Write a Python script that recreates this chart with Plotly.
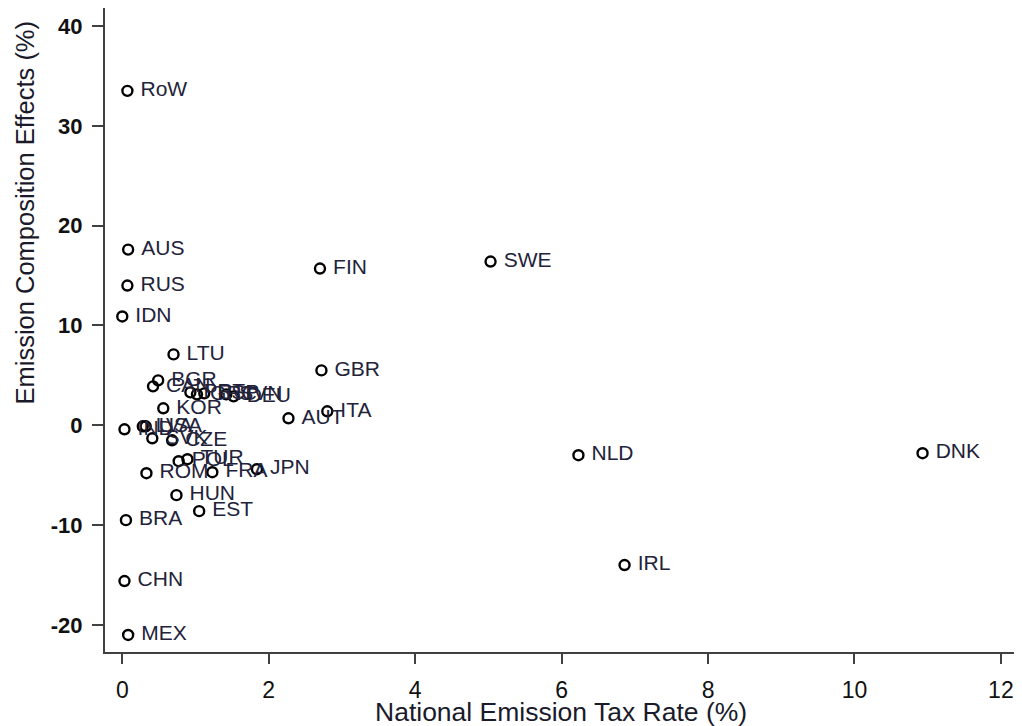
import plotly.graph_objects as go

countries = ["RoW", "AUS", "RUS", "IDN", "FIN", "SWE", "LTU", "GBR", "BGR", "CAN",
             "PRT", "GRC", "ESP", "SVN", "DEU", "KOR", "AUT", "ITA", "IND", "LVA",
             "USA", "SVK", "CZE", "POL", "TUR", "FRA", "JPN", "ROM", "HUN", "EST",
             "BRA", "CHN", "MEX", "NLD", "DNK", "IRL"]
tax_rate = [0.07, 0.08, 0.07, 0.00, 2.70, 5.03, 0.70, 2.72, 0.49, 0.42,
            0.93, 1.02, 1.12, 1.42, 1.52, 0.56, 2.27, 2.80, 0.03, 0.28,
            0.32, 0.41, 0.68, 0.77, 0.89, 1.23, 1.84, 0.33, 0.74, 1.05,
            0.05, 0.03, 0.08, 6.23, 10.93, 6.86]
composition = [33.5, 17.6, 14.0, 10.9, 15.7, 16.4, 7.1, 5.5, 4.5, 3.9,
               3.3, 3.1, 3.2, 3.1, 2.9, 1.7, 0.7, 1.4, -0.4, -0.1,
               -0.1, -1.3, -1.5, -3.6, -3.4, -4.7, -4.4, -4.8, -7.0, -8.6,
               -9.5, -15.6, -21.0, -3.0, -2.8, -14.0]

x_ticks = [0, 2, 4, 6, 8, 10, 12]
y_ticks = [-20, -10, 0, 10, 20, 30, 40]

FONT = "Liberation Sans, Arial, sans-serif"

fig = go.Figure()
fig.add_trace(go.Scatter(
    x=tax_rate, y=composition, mode="markers+text",
    text=["\u00a0" + c for c in countries], textposition="middle right",
    textfont=dict(family=FONT, size=21, color="#22223a"),
    marker=dict(symbol="circle-open", size=10, color="black", line=dict(width=2.4, color="black")),
    cliponaxis=False, showlegend=False,
))

fig.update_layout(
    width=1014, height=718,
    margin=dict(l=97, r=5, t=0, b=74, autoexpand=False),
    paper_bgcolor="white", plot_bgcolor="white",
    font=dict(family=FONT, color="#111"),
    annotations=[
        dict(text="Emission Composition Effects (%)", textangle=-90,
             xref="paper", yref="paper", x=-0.088, y=0.682,
             xanchor="center", yanchor="middle", showarrow=False,
             font=dict(family=FONT, size=25.5, color="#1a1a2a")),
        dict(text="National Emission Tax Rate (%)",
             xref="paper", yref="paper", x=0.5, y=-0.0932,
             xanchor="center", yanchor="middle", showarrow=False,
             font=dict(family=FONT, size=26.5, color="#1a1a2a")),
    ],
)
fig.update_xaxes(
    range=[-0.236, 12.22], tickvals=x_ticks, ticktext=[str(v) for v in x_ticks],
    showgrid=False, zeroline=False, showline=True, linecolor="#404040", linewidth=2,
    ticks="outside", ticklen=10, tickwidth=1.5, tickcolor="#404040",
    ticklabelstandoff=6,
    tickfont=dict(size=23, family=FONT, color="#111"),
)
fig.update_yaxes(
    range=[-22.71, 41.8], tickvals=y_ticks, ticktext=[str(v) for v in y_ticks],
    showgrid=False, zeroline=False, showline=True, linecolor="#404040", linewidth=2,
    ticks="outside", ticklen=11, tickwidth=1.5, tickcolor="#404040",
    ticklabelstandoff=5,
    tickfont=dict(size=22, family=FONT, color="#111", weight="bold"),
)

fig.write_html("out.html")
